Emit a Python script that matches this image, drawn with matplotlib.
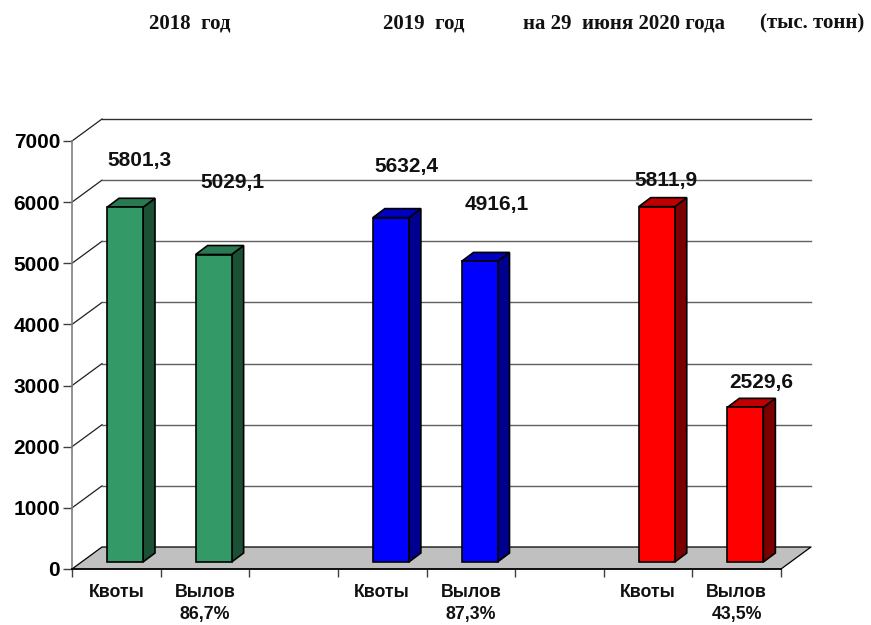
import matplotlib
matplotlib.use("Agg")
import matplotlib.pyplot as plt
from matplotlib.patches import Polygon

plt.rcParams['font.family'] = ['Liberation Sans', 'DejaVu Sans']

categories = ['Квоты', 'Вылов\n86,7%', '', 'Квоты', 'Вылов\n87,3%', '', 'Квоты', 'Вылов\n43,5%']
values = [5801.3, 5029.1, None, 5632.4, 4916.1, None, 5811.9, 2529.6]
value_labels = ['5801,3', '5029,1', '', '5632,4', '4916,1', '', '5811,9', '2529,6']
y_ticks = [0, 1000, 2000, 3000, 4000, 5000, 6000, 7000]
headers = ['2018  год', '2019  год', 'на 29  июня 2020 года', '(тыс. тонн)']

# face, side, top
colors = [('#339966', '#1c5035', '#297a52')] * 2 + [None] + \
         [('#0000ff', '#000090', '#0000c0')] * 2 + [None] + \
         [('#ff0000', '#7c0000', '#c00000')] * 2

W, H = 871, 625
X0, X1, Y0, Y1 = 72, 781, 569, 141
px_x = 8 / (X1 - X0)
px_y = 7000 / (Y0 - Y1)
base = 7 * px_y  # bars stand on the middle of the floor


def draw_bar(ax, cat, value, cols):
    # front face of the bar plus the two visible 3d faces
    left = cat + 35 * px_x
    right = left + 36 * px_x
    top = base + value
    dx, dy = 12 * px_x, 9 * px_y
    ax.add_patch(Polygon([(right, base), (right + dx, base + dy), (right + dx, top + dy), (right, top)],
                         fc=cols[1], ec='black', lw=1.2, clip_on=False, zorder=4))
    ax.add_patch(Polygon([(left, top), (right, top), (right + dx, top + dy), (left + dx, top + dy)],
                         fc=cols[2], ec='black', lw=1.2, clip_on=False, zorder=4))
    ax.add_patch(Polygon([(left, base), (right, base), (right, top), (left, top)],
                         fc=cols[0], ec='black', lw=1.2, clip_on=False, zorder=5))


fig = plt.figure(figsize=(W / 100, H / 100), dpi=100)
ax = fig.add_axes([X0 / W, 1 - Y0 / H, (X1 - X0) / W, (Y0 - Y1) / H])
ax.set_xlim(0, 8)
ax.set_ylim(0, 7000)
ax.patch.set_visible(False)

for side in ['top', 'right']:
    ax.spines[side].set_visible(False)
ax.spines['left'].set_color('#808080')
ax.spines['left'].set_linewidth(1.2)
ax.spines['bottom'].set_linewidth(1.3)
ax.spines['bottom'].set_zorder(3)

dx, dy = 30 * px_x, 22 * px_y

# floor
ax.add_patch(Polygon([(0, 0), (8, 0), (8 + dx, dy), (dx, dy)], fc='#c0c0c0', ec='none', clip_on=False, zorder=1))
ax.plot([8, 8 + dx, dx, 0], [0, dy, dy, 0], color='black', lw=0.9, clip_on=False, zorder=2)

# grid on the back wall and the diagonals on the side wall
for t in y_ticks[1:]:
    ax.plot([0, dx], [t, t + dy], color='#202020', lw=0.9, clip_on=False, zorder=2)
    ax.plot([dx, 8 + dx], [t + dy, t + dy], color='#303030' if t == 7000 else '#606060', lw=1.0,
            clip_on=False, zorder=2)

ax.set_yticks(y_ticks)
ax.tick_params(axis='y', length=6.5, width=1.0, color='#404040', pad=2, labelsize=15)
for lab in ax.get_yticklabels():
    lab.set_fontweight('bold')

ax.set_xticks(range(9))
ax.set_xticklabels([])
ax.tick_params(axis='x', which='major', length=6, width=1.0, color='#404040')
ax.set_xticks([i + 0.5 for i in range(8)], minor=True)
ax.set_xticklabels(categories, minor=True, fontsize=12.8, fontweight='bold', color='#111111', linespacing=1.35)
ax.tick_params(axis='x', which='minor', length=0, pad=11)

for i, v in enumerate(values):
    if v is not None:
        draw_bar(ax, i, v, colors[i])

# value labels sit where the original author dragged them, offsets in px from the bar top
label_offsets = [(14, 47), (19, 72), (16, 51), (17, 57), (9, 26), (16, 25)]
bar_labels = [(i, v, s) for i, (v, s) in enumerate(zip(values, value_labels)) if v is not None]
for (i, v, s), (ox, oy) in zip(bar_labels, label_offsets):
    ax.annotate(s, xy=(i + 53 * px_x, v + base), xytext=(ox * 0.72, oy * 0.72),
                textcoords='offset points', ha='center', va='center',
                fontsize=15, fontweight='bold', color='#111111', zorder=6,
                annotation_clip=False)

header_x = [190, 424, 624, 812]
for x, s in zip(header_x, headers):
    fig.text(x / W, 1 - 23 / H, s, ha='center', va='center', fontsize=15, fontweight='bold',
             family=['Liberation Serif', 'DejaVu Serif'], color='#111111')

fig.savefig('out.png', dpi=100)
plt.close(fig)
